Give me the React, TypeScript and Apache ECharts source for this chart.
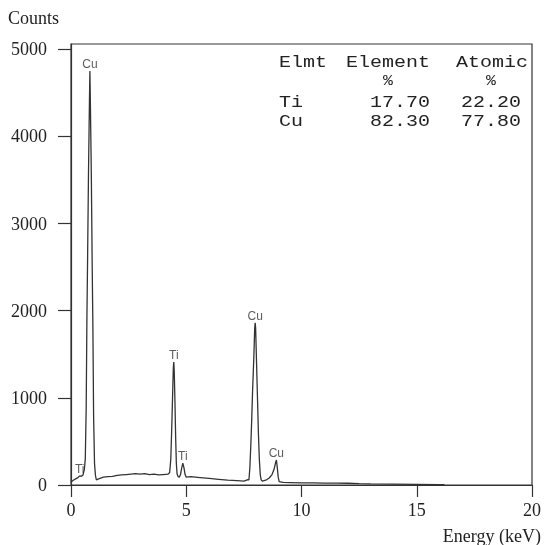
import React, { useEffect, useRef } from 'react';
import * as echarts from 'echarts';

// EDS spectrum (energy in keV, counts)
const energy = [
  0.0, 0.1, 0.2, 0.3, 0.38, 0.45, 0.52, 0.58, 0.62, 0.66, 0.69, 0.72, 0.76, 0.8, 0.82, 0.84, 0.88, 0.92, 0.95, 0.98, 1.02, 1.06,
  1.1, 1.2, 1.4, 1.6, 1.8, 2.0, 2.2, 2.4, 2.6, 2.8, 3.0, 3.2, 3.4, 3.6, 3.8, 4.0, 4.2,
  4.28, 4.33, 4.37, 4.41, 4.44, 4.46, 4.48, 4.51, 4.54, 4.57, 4.6, 4.65, 4.7,
  4.75, 4.8, 4.85, 4.9, 4.95, 5.0,
  5.2, 5.6, 6.0, 6.4, 6.8, 7.2, 7.5, 7.65,
  7.72, 7.76, 7.8, 7.84, 7.88, 7.93, 7.97, 7.99, 8.01, 8.05, 8.09, 8.13, 8.17, 8.21, 8.25,
  8.3, 8.45, 8.6, 8.72, 8.81, 8.87, 8.91, 8.95, 8.99, 9.03,
  9.2, 9.5, 10.0, 10.5, 11.0, 11.5, 12.0, 12.5, 13.0, 14.0, 15.0, 16.0, 16.2,
];
const counts = [
  35, 55, 70, 85, 105, 100, 115, 180, 300, 900, 1900, 2600, 3600, 4400, 4750, 4400, 3600, 2500, 1800, 800, 250, 110,
  60, 70, 90, 95, 100, 110, 115, 120, 125, 130, 125, 130, 120, 125, 115, 120, 125,
  140, 300, 650, 1050, 1350, 1410, 1300, 950, 550, 250, 130, 95, 90,
  120, 190, 250, 200, 120, 90,
  95, 85, 75, 65, 55, 50, 45, 60,
  60, 200, 450, 750, 1100, 1450, 1800, 1860, 1800, 1400, 1000, 600, 300, 120, 60,
  45, 55, 80, 120, 180, 250, 287, 200, 90, 40,
  30, 28, 25, 25, 22, 22, 20, 15, 12, 10, 8, 5, 3,
];

const peakNames = ['Ti', 'Cu', 'Ti', 'Ti', 'Cu', 'Cu'];
const peakEnergy = [0.38, 0.82, 4.46, 4.85, 7.99, 8.91];
const peakCounts = [105, 4750, 1410, 250, 1860, 287];

const yTicks = [0, 1000, 2000, 3000, 4000, 5000];
const xTicks = [0, 5, 10, 15, 20];

const tableHeader = ['Elmt', 'Element', 'Atomic'];
const tableUnits = ['%', '%'];
const tableElements = ['Ti', 'Cu'];
const elementPct = ['17.70', '82.30'];
const atomicPct = ['22.20', '77.80'];

const SERIF = "'Liberation Serif', 'Times New Roman', serif";
const MONO = "'Courier New', Courier, 'Liberation Mono', monospace";
const SANS = "'Liberation Sans', Arial, sans-serif";

export default function App() {
  const ref = useRef<HTMLDivElement>(null);
  useEffect(() => {
    if (!ref.current) return;
    const chart = echarts.init(ref.current, undefined, { renderer: 'svg' });
    const mono = (x: number, y: number, text: string, align: string = 'left', size = 17) => ({
      type: 'text', x, y, scaleX: 20 / 17,
      style: { text, font: `${size}px ${MONO}`, fill: '#222', textAlign: align, textVerticalAlign: 'middle' },
    });
    const rowY = [103, 122];
    const graphic: any[] = [
      { type: 'text', left: 8, top: 9, style: { text: 'Counts', font: `18px ${SERIF}`, fill: '#222' } },
      { type: 'text', x: 541, y: 536, style: { text: 'Energy (keV)', font: `18px ${SERIF}`, fill: '#222', textAlign: 'right', textVerticalAlign: 'middle' } },
      mono(279, 63, tableHeader[0]),
      mono(346, 63, tableHeader[1]),
      mono(456, 63, tableHeader[2]),
      mono(388, 81, tableUnits[0], 'center', 14),
      mono(491, 81, tableUnits[1], 'center', 14),
    ];
    tableElements.forEach((el, i) => {
      graphic.push(mono(279, rowY[i], el));
      graphic.push(mono(430, rowY[i], elementPct[i], 'right'));
      graphic.push(mono(521, rowY[i], atomicPct[i], 'right'));
    });

    chart.setOption({
      animation: false,
      grid: { left: 71, right: 10, top: 44, bottom: 60, show: true, borderColor: '#333', borderWidth: 1.2 },
      xAxis: {
        type: 'value', min: 0, max: 20, interval: 5,
        axisLine: { lineStyle: { color: '#333', width: 1.2 } },
        axisTick: { inside: false, length: 12, lineStyle: { color: '#333', width: 1.2 }, customValues: xTicks },
        axisLabel: { margin: 16, fontSize: 18, fontFamily: SERIF, color: '#222', customValues: xTicks, formatter: (v: number) => String(v) },
        splitLine: { show: false },
      },
      yAxis: {
        type: 'value', min: 0, max: 5060,
        axisLine: { show: true, lineStyle: { color: '#333', width: 1.2 } },
        axisTick: { show: true, inside: false, length: 13, lineStyle: { color: '#333', width: 1.2 }, customValues: yTicks },
        axisLabel: { margin: 24, fontSize: 18, fontFamily: SERIF, color: '#222', customValues: yTicks, formatter: (v: number) => String(v) },
        splitLine: { show: false },
      },
      series: [
        {
          type: 'line',
          data: energy.map((e, i) => [e, counts[i]]),
          showSymbol: false,
          symbol: 'none',
          lineStyle: { color: '#333', width: 1.3 },
          silent: true,
        },
        {
          type: 'scatter',
          data: peakNames.map((n, i) => ({ name: n, value: [peakEnergy[i], peakCounts[i]] })),
          symbolSize: 0,
          label: { show: true, position: 'top', distance: 1, formatter: '{b}', fontSize: 12, fontFamily: SANS, color: '#333' },
          silent: true,
        },
      ],
      graphic,
    });
    return () => chart.dispose();
  }, []);
  return <div ref={ref} style={{ position: 'fixed', left: 0, top: 0, width: 544, height: 545 }} />;
}
